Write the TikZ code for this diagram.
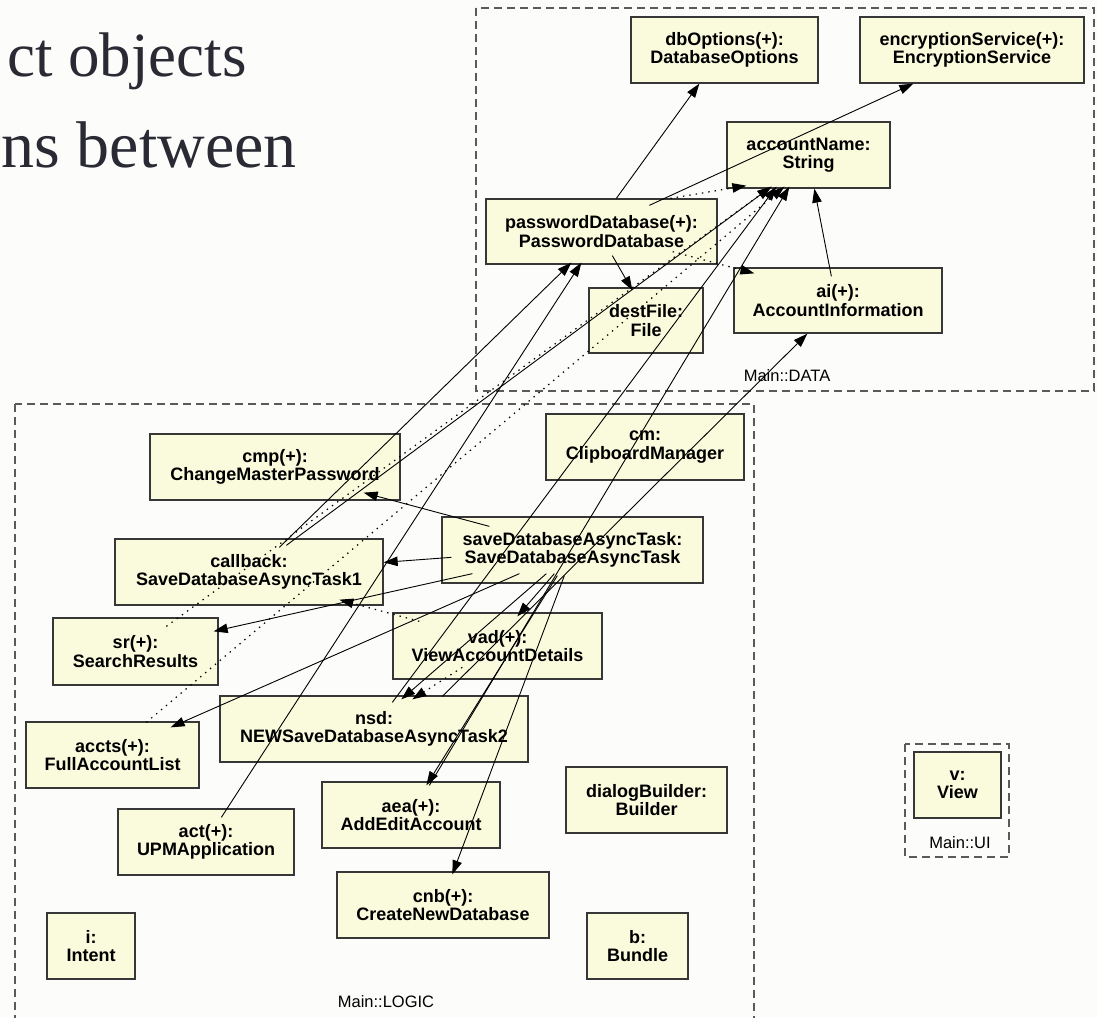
\documentclass[tikz,border=0pt]{standalone}
\usepackage{fontspec}
\setmainfont{Liberation Sans}
\newfontfamily\titlefont{Liberation Serif}
\usetikzlibrary{arrows.meta,calc}
\definecolor{boxfill}{RGB}{250,250,221}
\definecolor{boxline}{RGB}{55,55,55}
\definecolor{pkgline}{RGB}{90,90,90}
\definecolor{titleink}{RGB}{42,42,52}
\definecolor{paper}{RGB}{252,252,251}

% one UML object box given by its corners (x1,y1)-(x2,y2), y pointing down
\newcommand{\umlobj}[6]{%
  \node[obj, minimum width={#4-#2}, minimum height={#5-#3}] (#1)
    at ({(#2+#4)/2},{(#3+#5)/2}) {#6};}

\begin{document}
\begin{tikzpicture}[x=1pt,y=-1pt,
  obj/.style={draw=boxline, line width=1.3pt, fill=boxfill, align=center,
    inner sep=0pt, font=\fontsize{18}{18.5}\selectfont\bfseries},
  pkg/.style={draw=pkgline, line width=1.2pt, dash pattern=on 8pt off 5pt},
  pkglabel/.style={font=\fontsize{16.5}{18}\selectfont, inner sep=0pt},
  link/.style={draw=black, line width=0.9pt, -{Triangle[length=14pt,width=9.5pt]}},
  deplink/.style={link, line width=1.2pt, dash pattern=on 1.4pt off 5pt}
]
\useasboundingbox (0,0) rectangle (1097,1017);
\clip (0,0) rectangle (1097,1017);
\fill[paper] (0,0) rectangle (1097,1017);

% slide heading behind the diagram
\node[anchor=base east, inner sep=0pt, text=titleink,
  font=\titlefont\fontsize{63}{63}\selectfont] (head1) at (247,76) {ct objects};
\node[anchor=base east, inner sep=0pt, text=titleink,
  font=\titlefont\fontsize{66}{66}\selectfont] (head2) at (297,167) {ns between};

% packages
\draw[pkg] (476,8) rectangle (1094,391);
\node[pkglabel] (datalbl) at (787,376) {Main::DATA};
\draw[pkg] (15,404) rectangle (754,1040);
\node[pkglabel] (logiclbl) at (386,1002) {Main::LOGIC};
\draw[pkg] (905,744) rectangle (1009,857);
\node[pkglabel] (uilbl) at (960,843) {Main::UI};

% DATA objects
\umlobj{dbo}{631}{17}{818}{83}{dbOptions(+):\\DatabaseOptions}
\umlobj{enc}{860}{17}{1084}{83}{encryptionService(+):\\EncryptionService}
\umlobj{an}{727}{122}{890}{188}{accountName:\\String}
\umlobj{pd}{486}{199}{717}{264}{passwordDatabase(+):\\PasswordDatabase}
\umlobj{dest}{589}{288}{703}{353}{destFile:\\File}
\umlobj{ai}{734}{268}{942}{333}{ai(+):\\AccountInformation}

% LOGIC objects
\umlobj{cmp}{150}{434}{400}{500}{cmp(+):\\ChangeMasterPassword}
\umlobj{cm}{546}{414}{744}{480}{cm:\\ClipboardManager}
\umlobj{sdat}{442}{517}{703}{583}{saveDatabaseAsyncTask:\\SaveDatabaseAsyncTask}
\umlobj{cb}{115}{539}{383}{605}{callback:\\SaveDatabaseAsyncTask1}
\umlobj{sr}{53}{618}{218}{685}{sr(+):\\SearchResults}
\umlobj{vad}{393}{613}{602}{679}{vad(+):\\ViewAccountDetails}
\umlobj{nsd}{220}{696}{528}{762}{nsd:\\NEWSaveDatabaseAsyncTask2}
\umlobj{accts}{26}{722}{199}{788}{accts(+):\\FullAccountList}
\umlobj{aea}{322}{782}{500}{848}{aea(+):\\AddEditAccount}
\umlobj{dlg}{566}{767}{727}{833}{dialogBuilder:\\Builder}
\umlobj{act}{118}{809}{294}{875}{act(+):\\UPMApplication}
\umlobj{cnb}{337}{872}{549}{938}{cnb(+):\\CreateNewDatabase}
\umlobj{intent}{47}{913}{135}{979}{i:\\Intent}
\umlobj{bundle}{587}{913}{688}{979}{b:\\Bundle}

% UI objects
\umlobj{view}{914}{752}{1001}{818}{v:\\View}

% associations inside DATA
\draw[link] ($(pd.north west)+(131,0)$) -- ($(dbo.south west)+(69,0)$);
\draw[link] ($(pd.north west)+(164,7)$) -- ($(enc.south west)+(54,0)$);
\draw[link] ($(pd.south west)+(127,-9)$) -- ($(dest.north west)+(44,3)$);
\draw[link] ($(ai.north west)+(98,9)$) -- ($(an.south west)+(88,0)$);
\draw[deplink] ($(pd.north west)+(185,0)$) -- ($(an.south west)+(20,-3)$);
\draw[deplink] ($(pd.south east)+(-45,-13)$) -- ($(ai.north west)+(21,6)$);

% links from LOGIC up into DATA
\draw[link] ($(cb.north west)+(165,9)$) -- ($(pd.south west)+(86,-2)$);
\draw[link] ($(cb.north west)+(172,7)$) -- ($(an.south west)+(45,-2)$);
\draw[link] ($(act.north west)+(104,9)$) -- ($(pd.south west)+(96,-2)$);
\draw[link] ($(nsd.north west)+(173,7)$) -- ($(an.south west)+(50,-2)$);
\draw[link] ($(aea.north west)+(108,4)$) -- ($(an.south west)+(63,-2)$);
\draw[link] ($(nsd.north west)+(223,1)$) -- ($(ai.south west)+(74,0)$);
\draw[deplink] ($(sr.north west)+(114,9)$) -- ($(an.south west)+(45,-2)$);
\draw[deplink] ($(accts.north west)+(121,1)$) -- ($(an.south west)+(58,-2)$);

% saveDatabaseAsyncTask and its collaborators
\draw[link] ($(sdat.north west)+(48,10)$) -- ($(cmp.south east)+(-37,-8)$);
\draw[link] ($(sdat.north west)+(10,41)$) -- ($(cb.north east)+(0,24)$);
\draw[link] ($(sdat.south west)+(31,-10)$) -- ($(sr.north east)+(-5,14)$);
\draw[link] ($(sdat.south west)+(78,-10)$) -- ($(accts.north east)+(-29,6)$);
\draw[link] ($(sdat.south west)+(105,-10)$) -- ($(nsd.north west)+(182,4)$);
\draw[link] ($(sdat.south west)+(113,-10)$) -- ($(vad.north west)+(125,4)$);
\draw[link] ($(sdat.south west)+(116,-8)$) -- ($(aea.north west)+(105,4)$);
\draw[link] ($(sdat.south west)+(123,-8)$) -- ($(cnb.north west)+(116,3)$);
\draw[deplink] ($(vad.north west)+(27,9)$) -- ($(cb.south west)+(225,-6)$);
\draw[deplink] ($(vad.north west)+(70,55)$) -- ($(nsd.north west)+(193,4)$);
\end{tikzpicture}
\end{document}
